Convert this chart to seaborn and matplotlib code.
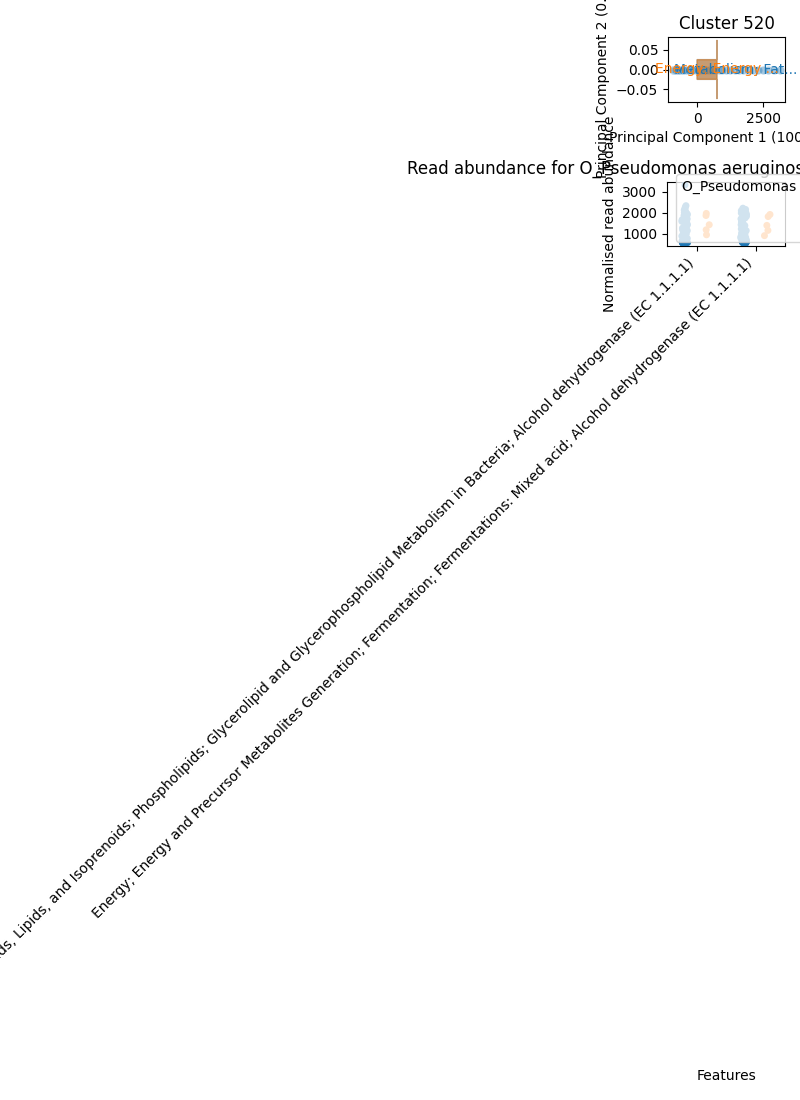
import numpy as np
import pandas as pd
import matplotlib
matplotlib.use("Agg")
import matplotlib.pyplot as plt
import seaborn as sns

# Features (x categories of the abundance plot)
features = [
    "Metabolism; Fatty Acids, Lipids, and Isoprenoids; Phospholipids; Glycerolipid and "
    "Glycerophospholipid Metabolism in Bacteria; Alcohol dehydrogenase (EC 1.1.1.1)",
    "Energy; Energy and Precursor Metabolites Generation; Fermentation; "
    "Fermentations: Mixed acid; Alcohol dehydrogenase (EC 1.1.1.1)",
]
groups = ["absent", "present"]
legend_title = "O_Pseudomonas aeruginosa presence in Cluster 520 samples"
plot_title = "Read abundance for O_Pseudomonas aeruginosa in Cluster 520 key features"

# normalised read abundance, per feature and group
f1_absent = [3320, 2330, 2260, 2190, 2120, 2060, 2000, 1950, 1900, 1860, 1820, 1780,
             1740, 1700, 1660, 1620, 1580, 1540, 1500, 1460, 1420, 1380, 1340, 1300,
             1260, 1220, 1180, 1140, 1100, 1060, 1020, 985, 950, 915, 880, 850, 820,
             790, 765, 740, 715, 695, 675, 660, 645, 630, 618, 606, 596, 588, 580, 574,
             568, 563, 559, 555, 552, 549, 547, 545]
f2_absent = [2210, 2150, 2090, 2030, 1975, 1920, 1870, 1825, 1780, 1740, 1700, 1660,
             1620, 1580, 1540, 1500, 1460, 1420, 1380, 1340, 1300, 1260, 1220, 1180,
             1140, 1100, 1060, 1020, 985, 950, 915, 880, 850, 820, 790, 765, 740, 715,
             695, 675, 660, 645, 630, 618, 606, 596, 588, 580, 574, 568, 563, 559, 555,
             552, 549, 547, 545]
f1_present = [1960, 1860, 1420, 1180, 940]
f2_present = [1910, 1810, 1390, 1150, 900]

# PCA of the samples (PC1 / PC2 scores)
pc1 = [-900, -895, -890, -885, -880, -870, -860, -850, -840, -825, -810, -790, -770,
       -740, -710, -670, -630, -580, -520, -450, -380, -300, -220, -140, -60, 30, 120,
       220, 330, 440, 560, 690, 820, 960, 1110, 1260, 1420, 1580, 1750, 1920, 2100,
       2300, 2500, 2700, 2900, 3125]
pc2 = [0.0, 0.0, 0.0, 0.0, 0.0, 0.0, 0.0, 0.0, 0.0, 0.0, 0.0, 0.0, 0.0, 0.0, 0.0, 0.0,
       0.0, 0.0, 0.0, 0.0, 0.0, 0.0, 0.0, 0.0, 0.0, 0.0, 0.0, 0.0, 0.0, 0.0, 0.0, 0.0,
       0.0, 0.0, 0.0, 0.0, 0.0, 0.0, 0.0, 0.0, 0.0, 0.0, 0.0, 0.0, 0.0, 0.0]
var_explained = [100.00, 0.00]

# feature loadings (arrows) and where their labels sit
loading_dx = [750, 750]
loading_dy = [0.0, 0.0]
label_x = [1470, 750]
label_y = [0.0, 0.0]

np.random.seed(0)

fig = plt.figure(figsize=(8, 11), dpi=100)
ax1 = fig.add_axes([668 / 800, 1 - 102 / 1100, 117 / 800, 65 / 1100])
ax2 = fig.add_axes([667 / 800, 1 - 246 / 1100, 118 / 800, 64 / 1100])

# PCA panel
sns.scatterplot(x=pc1, y=pc2, ax=ax1, color="C0", alpha=0.4)
for i, feat in enumerate(features):
    col = "C%d" % i
    ax1.arrow(0, 0, loading_dx[i], loading_dy[i], width=0.05, color=col, alpha=0.5)
    ax1.text(label_x[i], label_y[i], feat[:15] + "...", color=col,
             ha="center", va="center", fontsize=10)
ax1.set_title("Cluster 520")
ax1.set_xlabel(f"Principal Component 1 ({var_explained[0]:.2f}%)")
ax1.set_ylabel(f"Principal Component 2 ({var_explained[1]:.2f}%)")

# abundance panel
rows = []
for feat, vals_a, vals_p in [(features[0], f1_absent, f1_present),
                             (features[1], f2_absent, f2_present)]:
    for v in vals_a:
        rows.append({"Feature": feat, "Abundance": v, "Group": groups[0]})
    for v in vals_p:
        rows.append({"Feature": feat, "Abundance": v, "Group": groups[1]})
df = pd.DataFrame(rows)

sns.stripplot(data=df, x="Feature", y="Abundance", hue="Group", dodge=True, ax=ax2)
sns.move_legend(ax2, "lower left", title=legend_title,
                bbox_to_anchor=(0.076, 0.07), borderaxespad=0)
ax2.set_title(plot_title)
ax2.set_xlabel("Features")
ax2.set_ylabel("Normalised read abundance")
plt.setp(ax2.get_xticklabels(), rotation=45, ha="right")

fig.savefig("out.png", dpi=100)
